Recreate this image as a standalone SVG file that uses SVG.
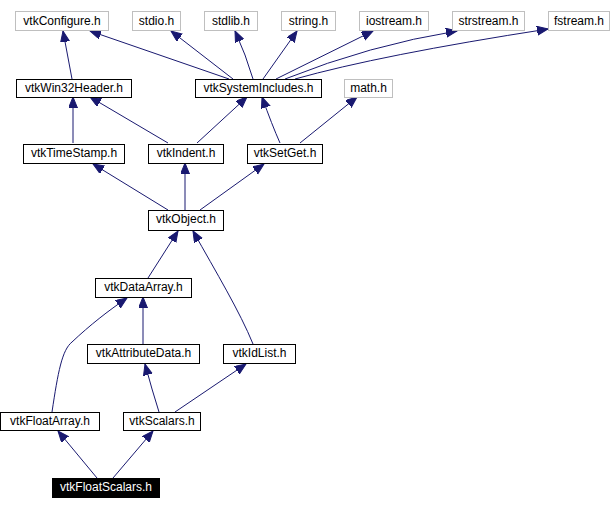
<svg xmlns="http://www.w3.org/2000/svg" width="612" height="509" viewBox="0 0 612 509">
<style>
.n rect{fill:#fff;stroke:#000;stroke-width:1}
.g rect{fill:#fff;stroke:#bfbfbf;stroke-width:1}
.h rect{fill:#000;stroke:#000;stroke-width:1}
text{font-family:"Liberation Sans",Arial,sans-serif;font-size:12px;text-anchor:middle;fill:#000}
.h text{fill:#fff}
.e path{fill:none;stroke:#191970;stroke-width:1;marker-end:url(#a)}
</style>
<defs>
<marker id="a" markerUnits="userSpaceOnUse" markerWidth="12" markerHeight="10" refX="11" refY="4.5" orient="auto">
<path d="M0,0 L11,4.5 L0,9 z" fill="#191970" stroke="#191970" stroke-width="1"/>
</marker>
</defs>
<g class="e" id="connectors">
<path d="M72,79 L63,31"/>
<path d="M229,79 L90,31"/>
<path d="M233,79 L171,31"/>
<path d="M253,79 Q246,55 235,31"/>
<path d="M263,79 L297,31"/>
<path d="M276,79 L373,31"/>
<path d="M285,79 Q370,45 457,31"/>
<path d="M295,79 Q380,55 548,29"/>
<path d="M73,143 L73,97"/>
<path d="M168,143 L90,97"/>
<path d="M197,143 L247,97"/>
<path d="M280,143 Q272,125 262,97"/>
<path d="M300,143 L357,97"/>
<path d="M168,210 L93,164"/>
<path d="M185,210 L185,163"/>
<path d="M200,210 L264,164"/>
<path d="M148,278 L178,231"/>
<path d="M253,344 C240,312 216,272 193,231"/>
<path d="M143,344 L143,297"/>
<path d="M52,412 C58,372 62,350 72,342 C90,325 108,311 127,298"/>
<path d="M159,412 Q152,390 145,364"/>
<path d="M175,412 L246,364"/>
<path d="M97,478 L58,431"/>
<path d="M113,478 L153,431"/>
</g>
<g id="vtkConfigure" class="g"><rect x="15.5" y="11.5" width="93" height="19"/><text x="62" y="24.5">vtkConfigure.h</text></g>
<g id="stdio" class="g"><rect x="132.5" y="11.5" width="48" height="19"/><text x="156.5" y="24.5">stdio.h</text></g>
<g id="stdlib" class="g"><rect x="204.5" y="11.5" width="53" height="19"/><text x="231" y="24.5">stdlib.h</text></g>
<g id="string" class="g"><rect x="281.5" y="11.5" width="54" height="19"/><text x="308.5" y="24.5">string.h</text></g>
<g id="iostream" class="g"><rect x="359.5" y="11.5" width="69" height="19"/><text x="394" y="24.5">iostream.h</text></g>
<g id="strstream" class="g"><rect x="452.5" y="11.5" width="72" height="19"/><text x="488.5" y="24.5">strstream.h</text></g>
<g id="fstream" class="g"><rect x="548.5" y="11.5" width="61" height="19"/><text x="579" y="24.5">fstream.h</text></g>
<g id="vtkWin32Header" class="n"><rect x="16.5" y="79.5" width="115" height="18"/><text x="74" y="92">vtkWin32Header.h</text></g>
<g id="vtkSystemIncludes" class="n"><rect x="195.5" y="79.5" width="126" height="18"/><text x="258.5" y="92">vtkSystemIncludes.h</text></g>
<g id="math" class="g"><rect x="344.5" y="79.5" width="48" height="18"/><text x="368.5" y="92">math.h</text></g>
<g id="vtkTimeStamp" class="n"><rect x="23.5" y="144.5" width="101" height="19"/><text x="74" y="157">vtkTimeStamp.h</text></g>
<g id="vtkIndent" class="n"><rect x="148.5" y="144.5" width="75" height="19"/><text x="186" y="157">vtkIndent.h</text></g>
<g id="vtkSetGet" class="n"><rect x="247.5" y="144.5" width="75" height="19"/><text x="285" y="157">vtkSetGet.h</text></g>
<g id="vtkObject" class="n"><rect x="148.5" y="210.5" width="75" height="20"/><text x="186" y="223">vtkObject.h</text></g>
<g id="vtkDataArray" class="n"><rect x="95.5" y="278.5" width="96" height="19"/><text x="143.5" y="291">vtkDataArray.h</text></g>
<g id="vtkAttributeData" class="n"><rect x="87.5" y="344.5" width="112" height="19"/><text x="143.5" y="357">vtkAttributeData.h</text></g>
<g id="vtkIdList" class="n"><rect x="223.5" y="344.5" width="72" height="19"/><text x="259.5" y="357">vtkIdList.h</text></g>
<g id="vtkFloatArray" class="n"><rect x="0.5" y="412.5" width="99" height="18"/><text x="50" y="424.5">vtkFloatArray.h</text></g>
<g id="vtkScalars" class="n"><rect x="123.5" y="412.5" width="77" height="18"/><text x="162" y="424.5">vtkScalars.h</text></g>
<g id="vtkFloatScalars" class="h"><rect x="52.5" y="478.5" width="107" height="19"/><text x="106" y="491">vtkFloatScalars.h</text></g>
</svg>
